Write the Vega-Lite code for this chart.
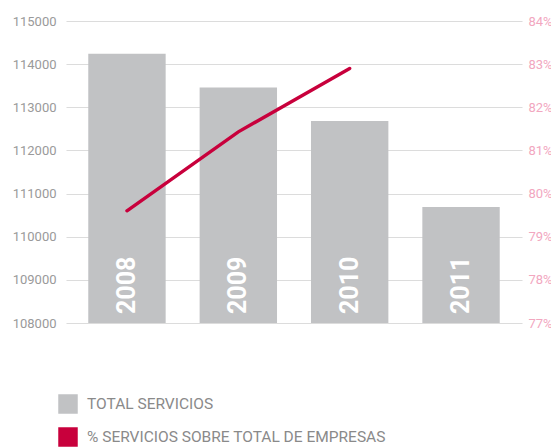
{
  "$schema": "https://vega.github.io/schema/vega-lite/v6.json",
  "autosize": "none",
  "width": 456,
  "height": 302,
  "padding": {"left": 66, "top": 21, "right": 29, "bottom": 124},
  "background": "white",
  "config": {
    "view": {"stroke": null},
    "font": "Roboto",
    "axis": {"labelFont": "Roboto", "domain": false, "ticks": false, "title": null}
  },
  "data": {
    "values": [
      {"year": "2008", "total": 114240, "pct": 79.6},
      {"year": "2009", "total": 113460, "pct": 81.43},
      {"year": "2010", "total": 112680, "pct": 82.9},
      {"year": "2011", "total": 110690, "pct": null}
    ]
  },
  "encoding": {
    "x": {
      "field": "year",
      "type": "nominal",
      "scale": {"paddingInner": 0.305, "paddingOuter": 0.2},
      "axis": null
    }
  },
  "layer": [
    {
      "mark": {"type": "bar", "clip": true},
      "encoding": {
        "y": {
          "field": "total",
          "type": "quantitative",
          "scale": {"domain": [108000, 115000], "zero": false, "nice": false},
          "axis": {
            "values": [108000, 109000, 110000, 111000, 112000, 113000, 114000, 115000],
            "format": "d",
            "labelColor": "#9a9a9a",
            "labelFontSize": 13,
            "labelPadding": 10,
            "grid": true,
            "gridColor": "#dcdcdc",
            "gridWidth": 1.2,
            "encode": {"grid": {"update": {"opacity": {"signal": "datum.value == 108000 ? 0 : 1"}}}}
          }
        },
        "y2": {"datum": 108000},
        "color": {
          "datum": "TOTAL SERVICIOS",
          "type": "nominal",
          "scale": {
            "domain": ["TOTAL SERVICIOS", "% SERVICIOS SOBRE TOTAL DE EMPRESAS"],
            "range": ["#c1c2c4", "#c8003c"]
          },
          "legend": {
            "title": null,
            "orient": "none",
            "legendX": -8,
            "legendY": 373,
            "symbolType": "square",
            "symbolSize": 380,
            "symbolStrokeWidth": 0,
            "symbolOpacity": 1,
            "rowPadding": 13,
            "labelOffset": 9,
            "labelFont": "Roboto",
            "labelFontSize": 15.5,
            "labelColor": "#8a8a8a",
            "labelLimit": 400,
            "encode": {
              "symbols": {
                "update": {
                  "fill": {"scale": "color", "field": "value"},
                  "stroke": {"value": "transparent"},
                  "strokeWidth": {"value": 0},
                  "opacity": {"value": 1}
                }
              }
            }
          }
        }
      }
    },
    {
      "mark": {
        "type": "text",
        "angle": 270,
        "align": "left",
        "baseline": "middle",
        "dx": 9,
        "color": "white",
        "font": "Roboto",
        "fontWeight": "bold",
        "fontSize": 25
      },
      "encoding": {
        "y": {
          "datum": 108000,
          "type": "quantitative",
          "scale": {"domain": [108000, 115000], "zero": false, "nice": false},
          "axis": null
        },
        "text": {"field": "year"}
      }
    },
    {
      "mark": {"type": "line", "strokeWidth": 3.4, "interpolate": "linear", "strokeCap": "round"},
      "encoding": {
        "y": {
          "field": "pct",
          "type": "quantitative",
          "scale": {"domain": [77, 84], "zero": false, "nice": false},
          "axis": {
            "orient": "right",
            "values": [77, 78, 79, 80, 81, 82, 83, 84],
            "labelExpr": "datum.value + '%'",
            "labelColor": "#f2a7bf",
            "labelFontSize": 13,
            "labelPadding": 6,
            "labelAlign": "left",
            "grid": false
          }
        },
        "color": {"datum": "% SERVICIOS SOBRE TOTAL DE EMPRESAS", "type": "nominal"}
      }
    }
  ],
  "resolve": {"scale": {"y": "independent"}}
}
